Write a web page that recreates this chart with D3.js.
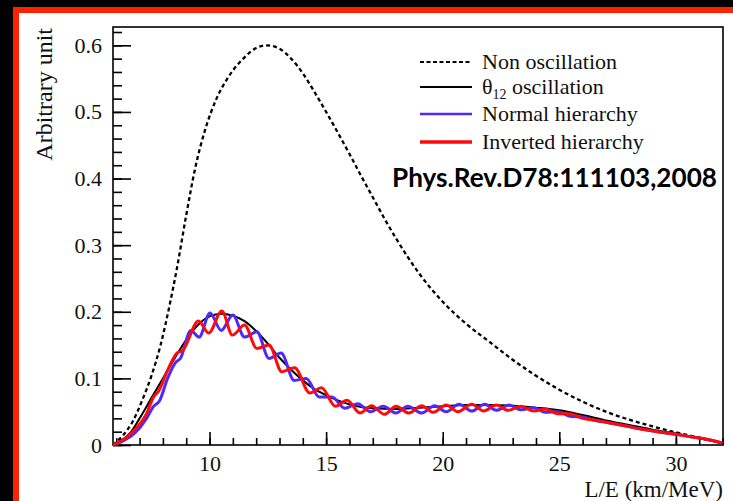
<!DOCTYPE html>
<html>
<head>
<meta charset="utf-8">
<script src="https://cdn.jsdelivr.net/npm/d3@7"></script>
<style>
  body { margin: 0; background: #000; }
  svg { display: block; }
</style>
</head>
<body>
<svg id="chart" width="733" height="501"></svg>
<script>
// values: [L/E (km/MeV), arbitrary unit]
const nonOscillation = [
  [5.86, 0.000], [6.3, 0.015], [6.7, 0.035], [7.1, 0.066], [7.5, 0.103], [7.9, 0.150],
  [8.3, 0.212], [8.6, 0.265], [9.0, 0.345], [9.4, 0.418], [9.8, 0.472], [10.3, 0.520],
  [10.8, 0.552], [11.5, 0.582], [12.0, 0.596], [12.45, 0.600], [13.0, 0.595], [13.5, 0.580],
  [14.0, 0.558], [14.5, 0.530], [15.0, 0.500], [15.5, 0.469], [16.0, 0.437], [16.5, 0.404],
  [17.0, 0.372], [17.5, 0.340], [18.0, 0.310], [19.0, 0.257], [20.0, 0.215], [21.0, 0.182],
  [22.0, 0.155], [23.0, 0.128], [24.0, 0.104], [25.0, 0.083], [26.0, 0.065], [27.0, 0.050],
  [28.0, 0.038], [29.0, 0.028], [30.0, 0.019], [31.0, 0.011], [32.0, 0.003]
];

const theta12Osc = [
  [5.86, 0.000], [6.2, 0.006], [6.6, 0.018], [7.0, 0.040], [7.5, 0.070], [8.0, 0.100],
  [8.5, 0.130], [9.0, 0.158], [9.5, 0.180], [10.0, 0.193], [10.5, 0.197], [11.0, 0.194],
  [11.5, 0.186], [12.0, 0.171], [12.5, 0.152], [13.0, 0.131], [13.5, 0.113], [14.0, 0.097],
  [14.5, 0.084], [15.0, 0.075], [15.5, 0.067], [16.0, 0.061], [16.5, 0.057], [17.0, 0.055],
  [18.0, 0.054], [19.0, 0.056], [20.0, 0.058], [21.0, 0.060], [22.0, 0.060], [23.0, 0.059],
  [24.0, 0.056], [25.0, 0.052], [26.0, 0.045], [27.0, 0.037], [28.0, 0.030], [29.0, 0.023],
  [30.0, 0.017], [31.0, 0.010], [32.0, 0.003]
];

const normalHierarchy = [
  [5.86, 0.000], [6.3, 0.006], [6.8, 0.018], [7.3, 0.040], [7.6, 0.058], [7.85, 0.066],
  [8.2, 0.100], [8.55, 0.124], [8.75, 0.130], [9.2, 0.172], [9.55, 0.162], [10.02, 0.198],
  [10.5, 0.172], [11.0, 0.195], [11.5, 0.162], [12.03, 0.170], [12.55, 0.130], [13.07, 0.138],
  [13.63, 0.097], [14.15, 0.100], [14.7, 0.072], [15.25, 0.072], [15.8, 0.055], [16.35, 0.062],
  [16.9, 0.050], [17.45, 0.058], [18.0, 0.048], [18.5, 0.058], [19.1, 0.048], [19.65, 0.059],
  [20.15, 0.050], [20.7, 0.061], [21.25, 0.051], [21.8, 0.061], [22.3, 0.052], [22.85, 0.060],
  [23.35, 0.053], [23.9, 0.056], [24.4, 0.049], [24.95, 0.050], [25.45, 0.043], [26.0, 0.042],
  [26.5, 0.037], [27.0, 0.034], [27.8, 0.029], [28.5, 0.024], [29.2, 0.020], [30.0, 0.016],
  [30.7, 0.012], [31.4, 0.008], [32.0, 0.003]
];

const invertedHierarchy = [
  [5.86, 0.000], [6.3, 0.008], [6.8, 0.023], [7.3, 0.047], [7.6, 0.072], [7.8, 0.080],
  [8.2, 0.112], [8.6, 0.138], [8.85, 0.142], [9.53, 0.186], [9.96, 0.168], [10.53, 0.201],
  [10.98, 0.165], [11.5, 0.180], [12.03, 0.145], [12.55, 0.150], [13.1, 0.110], [13.65, 0.116],
  [14.3, 0.078], [14.8, 0.086], [15.4, 0.058], [15.9, 0.067], [16.45, 0.048], [16.95, 0.059],
  [17.5, 0.046], [18.0, 0.058], [18.55, 0.048], [19.1, 0.059], [19.6, 0.049], [20.15, 0.060],
  [20.65, 0.050], [21.25, 0.061], [21.75, 0.051], [22.3, 0.060], [22.8, 0.052], [23.35, 0.058],
  [23.9, 0.051], [24.4, 0.054], [24.95, 0.047], [25.45, 0.047], [26.0, 0.040], [26.6, 0.037],
  [27.2, 0.033], [27.8, 0.029], [28.5, 0.024], [29.2, 0.020], [30.0, 0.016], [30.7, 0.012],
  [31.4, 0.008], [32.0, 0.003]
];

const xMajorTicks = [10, 15, 20, 25, 30];
const xMinorTicks = d3.range(6, 33, 1);
const yMajorTicks = [0, 0.1, 0.2, 0.3, 0.4, 0.5, 0.6];
const yMinorTicks = d3.range(0, 0.63, 0.02);
const legendLabels = ["Non oscillation", "θ12 oscillation", "Normal hierarchy", "Inverted hierarchy"];
const reference = "Phys.Rev.D78:111103,2008";

const svg = d3.select("#chart");
const serif = "'Liberation Serif', 'Times New Roman', serif";

// slide background: black, red frame, white panel
svg.append("rect").attr("width", 733).attr("height", 501).attr("fill", "#000");
svg.append("rect").attr("x", 13).attr("y", 7).attr("width", 720).attr("height", 494).attr("fill", "#ff2200");
svg.append("rect").attr("x", 19).attr("y", 13).attr("width", 714).attr("height", 488).attr("fill", "#fff");

const xScale = d3.scaleLinear().domain([5.86, 32.02]).range([113, 723]);
const yScale = d3.scaleLinear().domain([0, 0.6275]).range([445, 27]);

// axes (ticks point inward, ROOT style)
svg.append("g").attr("transform", "translate(113,0)")
  .call(d3.axisLeft(yScale).tickValues(yMajorTicks).tickFormat(d3.format("~g"))
    .tickSizeInner(-18).tickSizeOuter(0).tickPadding(11));
svg.append("g").attr("transform", "translate(113,0)")
  .call(d3.axisLeft(yScale).tickValues(yMinorTicks).tickFormat("")
    .tickSizeInner(-9).tickSizeOuter(0));

svg.append("g").attr("transform", "translate(0,445)")
  .call(d3.axisBottom(xScale).tickValues(xMajorTicks)
    .tickSizeInner(-13).tickSizeOuter(0).tickPadding(10));
svg.append("g").attr("transform", "translate(0,445)")
  .call(d3.axisBottom(xScale).tickValues(xMinorTicks.filter(v => v < 32.02)).tickFormat("")
    .tickSizeInner(-7).tickSizeOuter(0));

svg.selectAll(".domain").remove();
svg.selectAll(".tick line").attr("stroke", "#000").attr("stroke-width", 1.6);
svg.selectAll(".tick text").attr("font-family", serif).attr("font-size", 22).attr("fill", "#111");

// frame
svg.append("rect")
  .attr("x", 113).attr("y", 27).attr("width", 610).attr("height", 418)
  .attr("fill", "none").attr("stroke", "#000").attr("stroke-width", 1.6);

// axis titles
svg.append("text")
  .attr("transform", "translate(52,28) rotate(-90)")
  .attr("text-anchor", "end")
  .attr("font-family", serif).attr("font-size", 24).attr("fill", "#111")
  .text("Arbitrary unit");

svg.append("text")
  .attr("x", 723).attr("y", 497)
  .attr("text-anchor", "end")
  .attr("font-family", serif).attr("font-size", 23).attr("fill", "#111")
  .text("L/E (km/MeV)");

// curves
const line = d3.line()
  .x(d => xScale(d[0]))
  .y(d => yScale(d[1]))
  .curve(d3.curveMonotoneX);

const series = [
  { data: nonOscillation, color: "#000", width: 2.3, dash: "4,3" },
  { data: theta12Osc, color: "#000", width: 2, dash: null },
  { data: normalHierarchy, color: "#5028ff", width: 3, dash: null },
  { data: invertedHierarchy, color: "#ff0a0a", width: 3, dash: null }
];

svg.append("g").attr("class", "curves")
  .selectAll("path")
  .data(series)
  .join("path")
  .attr("d", d => line(d.data))
  .attr("fill", "none")
  .attr("stroke", d => d.color)
  .attr("stroke-width", d => d.width)
  .attr("stroke-dasharray", d => d.dash)
  .attr("stroke-linejoin", "round");

// legend
const legendY = [62, 87, 114, 142];
const legendStyle = [
  { color: "#000", width: 2, dash: "4,2.5" },
  { color: "#000", width: 2, dash: null },
  { color: "#5028ff", width: 2.4, dash: null },
  { color: "#ff0a0a", width: 3.5, dash: null }
];
const legend = svg.append("g").attr("class", "legend");
legendLabels.forEach((label, i) => {
  const s = legendStyle[i];
  legend.append("line")
    .attr("x1", 420).attr("x2", 472)
    .attr("y1", legendY[i]).attr("y2", legendY[i])
    .attr("stroke", s.color).attr("stroke-width", s.width)
    .attr("stroke-dasharray", s.dash);
  const t = legend.append("text")
    .attr("x", 482).attr("y", legendY[i] + 6.5)
    .attr("font-family", serif).attr("font-size", 22).attr("fill", "#111");
  if (label.startsWith("θ12")) {
    t.append("tspan").text("θ");
    t.append("tspan").attr("dy", 5).attr("font-size", 14).text("12");
    t.append("tspan").attr("dy", -5).text(label.slice(3));
  } else {
    t.text(label);
  }
});

// reference note
svg.append("text")
  .attr("x", 392).attr("y", 187)
  .attr("font-family", "Lato, 'Open Sans', sans-serif")
  .attr("font-weight", "bold").attr("font-size", 27)
  .attr("textLength", 325).attr("lengthAdjust", "spacingAndGlyphs")
  .attr("fill", "#000")
  .text(reference);
</script>
</body>
</html>
